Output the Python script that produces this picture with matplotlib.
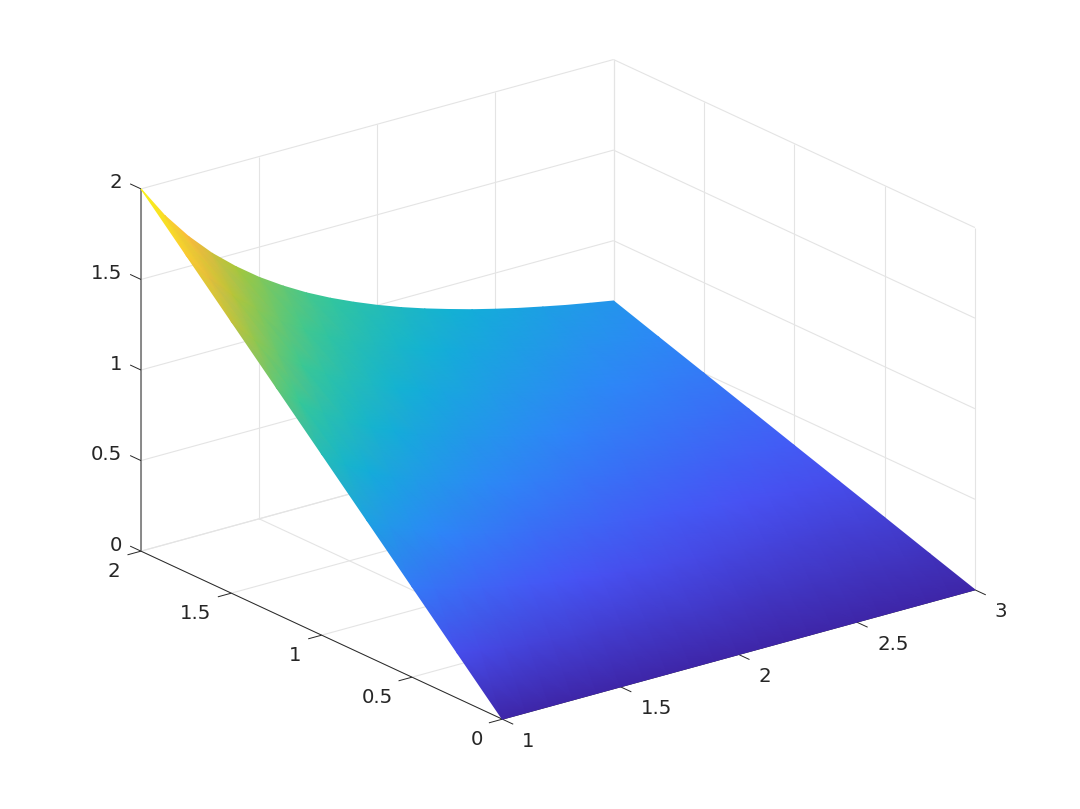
import numpy as np
import matplotlib
matplotlib.use("Agg")
import matplotlib.pyplot as plt
from matplotlib.colors import LinearSegmentedColormap
from mpl_toolkits.mplot3d import proj3d

# values
x_vals = [1, 1.1, 1.2, 1.3, 1.4, 1.5, 1.6, 1.7, 1.8, 1.9, 2, 2.1, 2.2, 2.3, 2.4, 2.5, 2.6, 2.7, 2.8, 2.9, 3]
y_vals = [0, 0.25, 0.5, 0.75, 1, 1.25, 1.5, 1.75, 2]
z_vals = [
    [0, .250, .500, .750, 1.000, 1.250, 1.500, 1.750, 2.000],
    [0, .227, .455, .682, .909, 1.136, 1.364, 1.591, 1.818],
    [0, .208, .417, .625, .833, 1.042, 1.250, 1.458, 1.667],
    [0, .192, .385, .577, .769, .962, 1.154, 1.346, 1.538],
    [0, .179, .357, .536, .714, .893, 1.071, 1.250, 1.429],
    [0, .167, .333, .500, .667, .833, 1.000, 1.167, 1.333],
    [0, .156, .313, .469, .625, .781, .938, 1.094, 1.250],
    [0, .147, .294, .441, .588, .735, .882, 1.029, 1.176],
    [0, .139, .278, .417, .556, .694, .833, .972, 1.111],
    [0, .132, .263, .395, .526, .658, .789, .921, 1.053],
    [0, .125, .250, .375, .500, .625, .750, .875, 1.000],
    [0, .119, .238, .357, .476, .595, .714, .833, .952],
    [0, .114, .227, .341, .455, .568, .682, .795, .909],
    [0, .109, .217, .326, .435, .543, .652, .761, .870],
    [0, .104, .208, .313, .417, .521, .625, .729, .833],
    [0, .100, .200, .300, .400, .500, .600, .700, .800],
    [0, .096, .192, .288, .385, .481, .577, .673, .769],
    [0, .093, .185, .278, .370, .463, .556, .648, .741],
    [0, .089, .179, .268, .357, .446, .536, .625, .714],
    [0, .086, .172, .259, .345, .431, .517, .603, .690],
    [0, .083, .167, .250, .333, .417, .500, .583, .667],
]
x_ticks = [1, 1.5, 2, 2.5, 3]
y_ticks = [0, 0.5, 1, 1.5, 2]
z_ticks = [0, 0.5, 1, 1.5, 2]

parula = LinearSegmentedColormap.from_list("parula", [
    (0.0, (0.2422, 0.1504, 0.6603)), (0.143, (0.2810, 0.3228, 0.9579)), (0.286, (0.1786, 0.5289, 0.9682)),
    (0.429, (0.0689, 0.6948, 0.8394)), (0.571, (0.2161, 0.7843, 0.5923)), (0.714, (0.6720, 0.7793, 0.2227)),
    (0.835, (0.9970, 0.7250, 0.2400)), (1.0, (0.9769, 0.9839, 0.0805))])

GRID = "#e4e4e4"
AXIS = "#262626"

fig = plt.figure(figsize=(10.8, 8.09), dpi=100)
ax = fig.add_axes([96.3 / 1080, -42 / 809, 899 / 1080, 899 / 809], projection="3d", proj_type="ortho")
ax.set_box_aspect((596, 594, 388))
ax.view_init(elev=20.9, azim=-127.5)
ax.set_xlim(1, 3)
ax.set_ylim(0, 2)
ax.set_zlim(0, 2)
ax.set_axis_off()
ax.patch.set_alpha(0)


def line3(p, q, color=GRID, lw=0.8):
    ax.plot([p[0], q[0]], [p[1], q[1]], [p[2], q[2]], color=color, lw=lw, solid_capstyle="butt")


# grid on the floor and the two back walls
for x in x_ticks:
    line3((x, 0, 0), (x, 2, 0))
    line3((x, 2, 0), (x, 2, 2))
for y in y_ticks:
    line3((1, y, 0), (3, y, 0))
    line3((3, y, 0), (3, y, 2))
for z in z_ticks:
    line3((1, 2, z), (3, 2, z))
    line3((3, 2, z), (3, 0, z))

# axis lines and tick marks
line3((3, 0, 0), (1, 0, 0), AXIS, 0.7)
line3((1, 0, 0), (1, 2, 0), AXIS, 0.7)
line3((1, 2, 0), (1, 2, 2), "#808080", 1.3)
for x in x_ticks:
    line3((x, 0, 0), (x, -0.06, 0), AXIS, 0.7)
for y in y_ticks:
    line3((1, y, 0), (0.943, y, 0), AXIS, 0.7)
for z in z_ticks:
    line3((1, 2, z), (1, 2.06, z), AXIS, 0.7)

fig.canvas.draw()
M = ax.get_proj()


def to_pixels(xs, ys, zs):
    px, py, _ = proj3d.proj_transform(np.ravel(xs), np.ravel(ys), np.ravel(zs), M)
    out = ax.transData.transform(np.column_stack([px, py]))
    return out[:, 0].reshape(np.shape(xs)), out[:, 1].reshape(np.shape(xs))


# overlay in pixel space, gouraud shading is not available on the 3d axes
top = fig.add_axes([0, 0, 1, 1])
top.set_xlim(0, 1080)
top.set_ylim(0, 809)
top.set_axis_off()
top.patch.set_alpha(0)

X, Y = np.meshgrid(x_vals, y_vals, indexing="ij")
Z = np.array(z_vals)
px, py = to_pixels(X, Y, Z)
top.pcolormesh(px, py, Z, shading="gouraud", cmap=parula, vmin=0, vmax=2)


def tick_label(value, x, y, z, dx, dy, ha):
    qx, qy = to_pixels(np.array([x]), np.array([y]), np.array([z]))
    top.annotate(f"{value:g}", (qx[0], qy[0]), xytext=(dx, dy), textcoords="offset pixels",
                 ha=ha, va="center", fontsize=14.2, color=AXIS)


for z in z_ticks:
    tick_label(z, 1, 2, z, -19, 6, "right")
for y, dx in zip(y_ticks, [-25, -35, -27, -36, -27]):
    tick_label(y, 1, y, 0, dx, -20, "center")
for x, dx in zip(x_ticks, [26, 36, 26, 36, 26]):
    tick_label(x, x, 0, 0, dx, -22, "center")

fig.savefig("out.png", dpi=100)
